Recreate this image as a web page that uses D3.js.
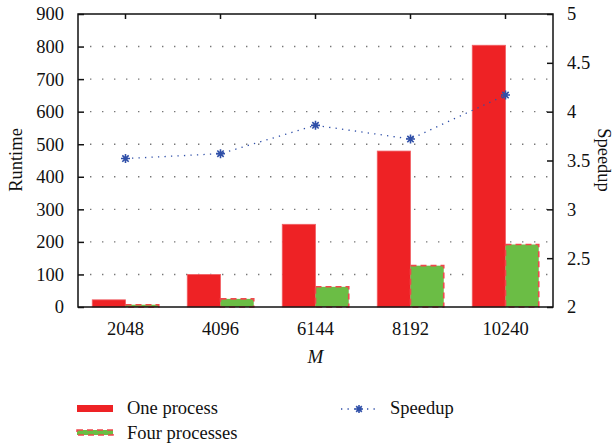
<!DOCTYPE html>
<html>
<head>
<meta charset="utf-8">
<script src="https://cdn.jsdelivr.net/npm/d3@7"></script>
<style>
  html, body { margin: 0; padding: 0; background: #fff; }
  svg text { font-family: "Liberation Serif", "DejaVu Serif", "Times New Roman", serif !important; }
</style>
</head>
<body>
<svg id="chart" width="616" height="446"></svg>
<script>
// Problem sizes
const categories = ["2048", "4096", "6144", "8192", "10240"];
// Runtime with one process and with four processes
const oneProcess = [22, 100, 254, 479, 804];
const fourProcesses = [7, 25, 62, 127, 192];
// Speedup of four processes over one
const speedup = [3.52, 3.57, 3.86, 3.72, 4.17];
// Axis ticks
const runtimeTicks = [0, 100, 200, 300, 400, 500, 600, 700, 800, 900];
const speedupTicks = [2, 2.5, 3, 3.5, 4, 4.5, 5];

const svg = d3.select("#chart");
const m = { left: 78, right: 553, top: 14, bottom: 307 };
const FS = 18.5;

const x = d3.scaleBand().domain(categories).range([m.left, m.right]).paddingInner(0.3).paddingOuter(0.15);
const xSub = d3.scaleBand().domain(["one", "four"]).range([0, x.bandwidth()]);
const yL = d3.scaleLinear().domain([0, 900]).range([m.bottom, m.top]);
const yR = d3.scaleLinear().domain([2, 5]).range([m.bottom, m.top]);

const red = "#ee2225", green = "#6bbd45", blue = "#2f4fa8";

// Dotted grid lines for the runtime ticks
svg.append("g").selectAll("line")
  .data(runtimeTicks.filter(t => t > 0 && t < 900))
  .join("line")
  .attr("x1", m.left + 12).attr("x2", m.right - 4)
  .attr("y1", d => yL(d)).attr("y2", d => yL(d))
  .attr("stroke", "#777").attr("stroke-width", 1.4)
  .attr("stroke-dasharray", "1.4,10.6");

// Bars
const groups = svg.append("g").selectAll("g").data(categories).join("g")
  .attr("transform", d => `translate(${x(d)},0)`);

groups.append("rect")
  .attr("x", xSub("one")).attr("width", xSub.bandwidth())
  .attr("y", (d, i) => yL(oneProcess[i]))
  .attr("height", (d, i) => yL(0) - yL(oneProcess[i]))
  .attr("fill", red).attr("stroke", "#f06065").attr("stroke-width", 0.8);

groups.append("rect")
  .attr("x", xSub("four")).attr("width", xSub.bandwidth())
  .attr("y", (d, i) => yL(fourProcesses[i]))
  .attr("height", (d, i) => yL(0) - yL(fourProcesses[i]))
  .attr("fill", green).attr("stroke", "#f0484c").attr("stroke-width", 1.6)
  .attr("stroke-dasharray", "6,4");

// Speedup line
const cx = d => x(d) + x.bandwidth() / 2;
svg.append("path")
  .datum(categories)
  .attr("fill", "none").attr("stroke", blue).attr("stroke-width", 1.3)
  .attr("stroke-dasharray", "1.3,5.2")
  .attr("d", d3.line().x(d => cx(d)).y((d, i) => yR(speedup[i])));

function asterisk(g, px, py, r) {
  const a = r * 0.7071;
  g.append("path")
    .attr("d", `M${px - r},${py}H${px + r}M${px},${py - r}V${py + r}M${px - a},${py - a}L${px + a},${py + a}M${px - a},${py + a}L${px + a},${py - a}`)
    .attr("stroke", blue).attr("stroke-width", 1.6).attr("fill", "none");
}
const marks = svg.append("g");
categories.forEach((c, i) => asterisk(marks, cx(c), yR(speedup[i]), 4.5));

// Frame
svg.append("rect")
  .attr("x", m.left).attr("y", m.top)
  .attr("width", m.right - m.left).attr("height", m.bottom - m.top)
  .attr("fill", "none").attr("stroke", "#111").attr("stroke-width", 1.5);

// Axes with inward ticks
const axL = svg.append("g").attr("transform", `translate(${m.left},0)`)
  .call(d3.axisLeft(yL).tickValues(runtimeTicks).tickSizeInner(-6).tickSizeOuter(0).tickPadding(14));
const axR = svg.append("g").attr("transform", `translate(${m.right},0)`)
  .call(d3.axisRight(yR).tickValues(speedupTicks).tickFormat(d3.format("")).tickSizeInner(-6).tickSizeOuter(0).tickPadding(14));
const axB = svg.append("g").attr("transform", `translate(0,${m.bottom})`)
  .call(d3.axisBottom(x).tickSizeInner(0).tickSizeOuter(0).tickPadding(15));
const axT = svg.append("g").attr("transform", `translate(0,${m.top})`)
  .call(d3.axisTop(x).tickSizeInner(-5).tickSizeOuter(0).tickFormat(""));

[axL, axR, axB, axT].forEach(a => {
  a.attr("font-family", null).attr("font-size", null);
  a.select(".domain").remove();
  a.selectAll(".tick line").attr("stroke", "#111").attr("stroke-width", 1.5);
  a.selectAll("text").attr("font-size", FS).attr("fill", "#111");
});

// Axis titles
svg.append("text").attr("transform", "translate(22,160) rotate(-90)")
  .attr("text-anchor", "middle").attr("font-size", FS).attr("fill", "#111").text("Runtime");
svg.append("text").attr("transform", "translate(598,160) rotate(90)")
  .attr("text-anchor", "middle").attr("font-size", FS).attr("fill", "#111").text("Speedup");
svg.append("text").attr("x", (m.left + m.right) / 2).attr("y", 363)
  .attr("text-anchor", "middle").attr("font-size", 19).attr("font-style", "italic").attr("fill", "#111").text("M");

// Legend
const lg = svg.append("g");
lg.append("rect").attr("x", 77).attr("y", 405).attr("width", 36).attr("height", 7).attr("fill", red);
lg.append("text").attr("x", 127).attr("y", 414).attr("font-size", FS).attr("fill", "#111").text("One process");
lg.append("rect").attr("x", 77).attr("y", 430).attr("width", 36).attr("height", 5)
  .attr("fill", green).attr("stroke", "#f0484c").attr("stroke-width", 1.5).attr("stroke-dasharray", "6,4");
lg.append("text").attr("x", 127).attr("y", 439).attr("font-size", FS).attr("fill", "#111").text("Four processes");
lg.append("line").attr("x1", 341).attr("x2", 376).attr("y1", 409).attr("y2", 409)
  .attr("stroke", blue).attr("stroke-width", 1.3).attr("stroke-dasharray", "1.3,5.2");
asterisk(lg, 359, 409, 4);
lg.append("text").attr("x", 390).attr("y", 414).attr("font-size", FS).attr("fill", "#111").text("Speedup");
</script>
</body>
</html>
